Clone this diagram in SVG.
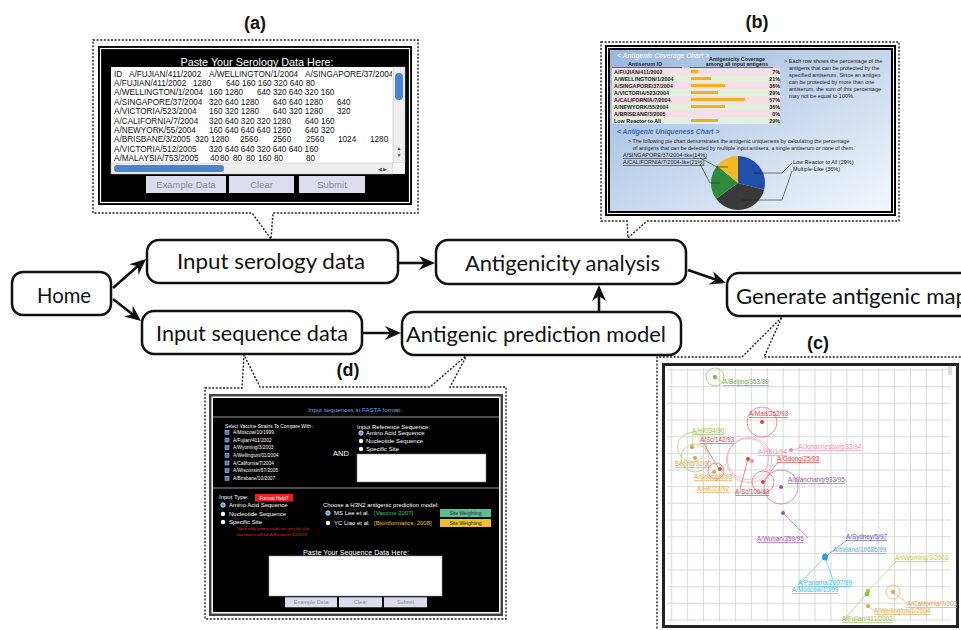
<svg xmlns="http://www.w3.org/2000/svg" width="961" height="630" viewBox="0 0 961 630">
<style>
.nb{fill:#fff;stroke:#111;stroke-width:2.5}
.nt{font-family:Lato,"Liberation Sans",sans-serif;font-size:21px;fill:#111}
.conn{stroke:#111;stroke-width:2.6;fill:none;marker-end:url(#ah)}
.call{fill:none;stroke:#222;stroke-width:1.4;stroke-dasharray:2 1.6}
.pl{font-family:"Liberation Sans",Arial,sans-serif;font-weight:bold;font-size:18px;fill:#111;text-anchor:middle}
.sa{font-family:"Liberation Sans",Arial,sans-serif;font-size:8.2px;fill:#111}
.btn{fill:#dcdcee}
.bt{font-family:"Liberation Sans",Arial,sans-serif;fill:#8a8a9a;text-anchor:middle}
.bs{font-family:"Liberation Sans",Arial,sans-serif;fill:#222}
.dw{font-family:"Liberation Sans",Arial,sans-serif;fill:#fff}
.ml{font-family:"Liberation Sans",Arial,sans-serif;font-size:6.3px;text-decoration:underline}
.grid{stroke:#cfcfcf;stroke-width:0.8;fill:none}
.lead{stroke:#222;stroke-width:0.6;fill:none}
.rad{fill:#fff}
.rads{fill:#4a90e0;stroke:#fff;stroke-width:0.8}
.cb{fill:#3a7ad8;stroke:#cde;stroke-width:0.5}
</style>
<defs>
<marker id="ah" markerUnits="userSpaceOnUse" markerWidth="17" markerHeight="15" refX="12" refY="7" orient="auto">
<path d="M0,0 L16,7 L0,14 L5,7 Z" fill="#111"/>
</marker>
<linearGradient id="bbg" x1="0" y1="0" x2="1" y2="1">
<stop offset="0" stop-color="#97b7df"/>
<stop offset="1" stop-color="#f4f7fb"/>
</linearGradient>
<clipPath id="taClip"><rect x="111" y="67" width="281" height="96"/></clipPath>
<clipPath id="mapClip"><rect x="665" y="366" width="292" height="260"/></clipPath>
</defs>

<!-- panel labels -->
<text class="pl" x="255" y="29">(a)</text>
<text class="pl" x="757" y="28">(b)</text>
<text class="pl" x="818" y="349">(c)</text>
<text class="pl" x="348" y="376">(d)</text>

<!-- callouts -->
<g id="callouts">
<path class="call" d="M93,40 H418 V213 H273 L271,239 L252,213 H93 Z"/>
<path class="call" d="M601,42 H899 V221 H647 L628,238 L627,221 H601 Z"/>
<path class="call" d="M657,632 V357 H742 L782,317 L764,357 H965"/>
<path class="call" d="M205,388 H242 L244,355 L260,387 H430 L467,355 L450,387 H506 V619 H205 Z"/>
</g>

<!-- panel (a) -->
<g id="panel-a">
<rect x="98" y="46" width="314" height="159" fill="#000"/>
<rect x="100.5" y="48.5" width="309" height="154" fill="none" stroke="#fff" stroke-width="1.2"/>
<text class="dw" x="257" y="66" font-size="10.8" text-anchor="middle">Paste Your Serology Data Here:</text>
<rect x="111" y="67" width="294" height="107" fill="#fff"/>
<g clip-path="url(#taClip)" class="sa">
<text x="114" y="76.5">ID</text><text x="129" y="76.5">A/FUJIAN/411/2002</text><text x="209" y="76.5">A/WELLINGTON/1/2004</text><text x="305" y="76.5">A/SINGAPORE/37/2004</text>
<text x="114" y="85.9">A/FUJIAN/411/2002</text><text x="193" y="85.9">1280</text><text x="226" y="85.9">640 160 160 320 640 80</text>
<text x="114" y="95.3">A/WELLINGTON/1/2004</text><text x="209" y="95.3">160 1280</text><text x="257" y="95.3">640 320 640 320 160</text>
<text x="114" y="104.7">A/SINGAPORE/37/2004</text><text x="209" y="104.7">320 640 1280</text><text x="273" y="104.7">640 640 1280</text><text x="337" y="104.7">640</text>
<text x="114" y="114.1">A/VICTORIA/523/2004</text><text x="209" y="114.1">160 320 1280</text><text x="273" y="114.1">640 320 1280</text><text x="337" y="114.1">320</text>
<text x="114" y="123.5">A/CALIFORNIA/7/2004</text><text x="209" y="123.5">320 640 320 320 1280</text><text x="305" y="123.5">640 160</text>
<text x="114" y="132.9">A/NEWYORK/55/2004</text><text x="209" y="132.9">160 640 640 640 1280</text><text x="305" y="132.9">640 320</text>
<text x="114" y="142.3">A/BRISBANE/3/2005</text><text x="195" y="142.3">320 1280</text><text x="240" y="142.3">2560</text><text x="273" y="142.3">2560</text><text x="306" y="142.3">2560</text><text x="338" y="142.3">1024</text><text x="370" y="142.3">1280</text>
<text x="114" y="151.7">A/VICTORIA/512/2005</text><text x="209" y="151.7">320 640 640 320 640 640 160</text>
<text x="114" y="161.1">A/MALAYSIA/753/2005</text><text x="210" y="161.1">40</text><text x="220" y="161.1">80</text><text x="233" y="161.1">80</text><text x="246" y="161.1">80</text><text x="258" y="161.1">160 80</text><text x="306" y="161.1">80</text>
</g>
<!-- scrollbars -->
<rect x="393" y="67" width="12" height="96" fill="#eee" stroke="#bbb" stroke-width="0.5"/>
<rect x="395" y="73" width="8" height="27" rx="4" fill="#4a86d0"/>
<text x="399" y="150" font-family="Liberation Sans" font-size="5" fill="#555" text-anchor="middle">▲</text>
<text x="399" y="157" font-family="Liberation Sans" font-size="5" fill="#555" text-anchor="middle">▼</text>
<rect x="111" y="163" width="282" height="11" fill="#eee" stroke="#bbb" stroke-width="0.5"/>
<rect x="114" y="165" width="110" height="7" rx="3.5" fill="#4a86d0"/>
<text x="378" y="171" font-family="Liberation Sans" font-size="5" fill="#555">◀ ▶</text>
<rect x="393" y="163" width="12" height="11" fill="#f4f4f4"/>
<rect class="btn" x="146" y="176" width="80" height="17"/>
<rect class="btn" x="229" y="176" width="65" height="17"/>
<rect class="btn" x="299" y="176" width="66" height="17"/>
<text class="bt" x="186" y="188" font-size="9.5">Example Data</text>
<text class="bt" x="261.5" y="188" font-size="9.5">Clear</text>
<text class="bt" x="332" y="188" font-size="9.5">Submit</text>
</g>

<!-- panel (b) -->
<g id="panel-b">
<rect x="605" y="45" width="291" height="171" fill="#000"/>
<rect x="607.5" y="47.5" width="286" height="166" fill="none" stroke="#fff" stroke-width="1"/>
<rect x="610" y="50" width="281" height="161" fill="url(#bbg)"/>
<text x="617" y="58" font-family="Liberation Sans" font-size="6.6" font-style="italic" font-weight="bold" fill="#eef3fb">&lt; Antigenic Coverage Chart &gt;</text>
<text class="bs" x="737" y="61" font-size="5.3" font-weight="bold" text-anchor="middle">Antigenicity Coverage</text>
<text class="bs" x="737" y="66" font-size="5.3" font-weight="bold" text-anchor="middle">among all input antigens</text>
<text class="bs" x="645" y="66" font-size="5.5" font-weight="bold" text-anchor="middle">Antiserum ID</text>
<path d="M612,67.7 H682 M690,67.7 H773" stroke="#333" stroke-width="0.8"/>
<rect x="612" y="68" width="168" height="7" fill="#f5dee7"/>
<rect x="612" y="75" width="168" height="7" fill="#e2f0dc"/>
<rect x="612" y="82" width="168" height="7" fill="#f5dee7"/>
<rect x="612" y="89" width="168" height="7" fill="#e2f0dc"/>
<rect x="612" y="96" width="168" height="7" fill="#f5dee7"/>
<rect x="612" y="103" width="168" height="7" fill="#e2f0dc"/>
<rect x="612" y="110" width="168" height="7" fill="#f5dee7"/>
<rect x="612" y="117" width="168" height="7" fill="#e2f0dc"/>
<g fill="#f0b020">
<rect x="691" y="70" width="7" height="3"/>
<rect x="691" y="77" width="20" height="3"/>
<rect x="691" y="84" width="34" height="3"/>
<rect x="691" y="91" width="27" height="3"/>
<rect x="691" y="98" width="54" height="3"/>
<rect x="691" y="105" width="34" height="3"/>
<rect x="691" y="119" width="27" height="3"/>
</g>
<g class="bs" font-size="5.4" font-weight="bold">
<text x="614" y="73.5">A/FUJIAN/411/2002</text>
<text x="614" y="80.5">A/WELLINGTON/1/2004</text>
<text x="614" y="87.5">A/SINGAPORE/37/2004</text>
<text x="614" y="94.5">A/VICTORIA/523/2004</text>
<text x="614" y="101.5">A/CALIFORNIA/7/2004</text>
<text x="614" y="108.5">A/NEWYORK/55/2004</text>
<text x="614" y="115.5">A/BRISBANE/3/2005</text>
<text x="614" y="122.5">Low Reactor to All</text>
</g>
<g class="bs" font-size="5.4" font-weight="bold" text-anchor="end">
<text x="780" y="73.5">7%</text>
<text x="780" y="80.5">21%</text>
<text x="780" y="87.5">36%</text>
<text x="780" y="94.5">29%</text>
<text x="780" y="101.5">57%</text>
<text x="780" y="108.5">36%</text>
<text x="780" y="115.5">0%</text>
<text x="780" y="122.5">29%</text>
</g>
<g class="bs" font-size="5.5">
<text x="784" y="63">&gt; Each row shows the percentage of the</text>
<text x="789" y="70">antigens that can be protected by the</text>
<text x="789" y="77">specified antiserum. Since an antigen</text>
<text x="789" y="84">can be protected by more than one</text>
<text x="789" y="91">antiserum, the sum of this percentage</text>
<text x="789" y="98">may not be equal to 100%.</text>
</g>
<text x="617" y="134" font-family="Liberation Sans" font-size="6.8" font-style="italic" font-weight="bold" fill="#3a68b8">&lt; Antigenic Uniqueness Chart &gt;</text>
<text class="bs" x="628" y="143" font-size="5.3">&gt; The following pie chart demonstrates the antigenic uniqueness by calculating the percentage</text>
<text class="bs" x="633" y="150" font-size="5.3">of antigens that can be detected by multiple input antisera, a single antiserum or none of them.</text>
<text class="bs" x="623" y="157" font-size="5.5" text-decoration="underline">A/SINGAPORE/37/2004-like(14%)</text>
<text class="bs" x="623" y="164" font-size="5.5" text-decoration="underline">A/CALIFORNIA/7/2004-like(21%)</text>
<text class="bs" x="793" y="164" font-size="5.5">Low Reactor to All (29%)</text>
<text class="bs" x="793" y="171" font-size="5.5">Multiple-Like (36%)</text>
<path d="M738,183 L738,156 A27,27 0 0 1 764.15,189.71 Z" fill="#1f4fa8"/>
<path d="M738,183 L764.15,189.71 A27,27 0 0 1 716.16,198.87 Z" fill="#3a3a3a"/>
<path d="M738,183 L716.16,198.87 A27,27 0 0 1 717.2,165.79 Z" fill="#2e8a3c"/>
<path d="M738,183 L717.2,165.79 A27,27 0 0 1 738,156 Z" fill="#f2b82a"/>
<path class="lead" d="M753,173 H782 L792,163 M742,200 H782 L792,171 M700,158 L717,167 H728 M700,164 L710,183 H720"/>
</g>

<!-- panel (c) -->
<g id="panel-c">
<rect x="663.5" y="364.5" width="294" height="262" fill="#fff" stroke="#222" stroke-width="3"/>
<path class="grid" d="M671.7,368V622M687.6,368V622M703.5,368V622M719.5,368V622M735.4,368V622M751.3,368V622M767.2,368V622M783.1,368V622M799.1,368V622M815,368V622M830.9,368V622M846.8,368V622M862.7,368V622M878.7,368V622M894.6,368V622M910.5,368V622M926.4,368V622M942.3,368V622
M667,370H951M667,386.7H951M667,403.3H951M667,420H951M667,436.7H951M667,453.3H951M667,470H951M667,486.7H951M667,503.3H951M667,520H951M667,536.7H951M667,553.3H951M667,570H951M667,586.7H951M667,603.3H951M667,620H951"/>
<rect x="948" y="366" width="4" height="9" fill="#ddd"/>
<g clip-path="url(#mapClip)">
<circle cx="715" cy="377" r="9" fill="none" stroke="#8ccc66" stroke-width="0.8"/>
<circle cx="715" cy="377" r="2" fill="#66b040"/>
<path d="M715,377 L723,383" stroke="#8ccc66" stroke-width="0.6"/>
<text class="ml" x="723" y="384" fill="#66b040">A/Beijing/353/89</text>

<circle cx="762" cy="422" r="15" fill="none" stroke="#f27070" stroke-width="0.8"/>
<circle cx="762" cy="422" r="2" fill="#e83b3b"/>
<text class="ml" x="749" y="416" fill="#e83b3b">A/Mad/262/93</text>

<circle cx="692" cy="447" r="14.5" fill="none" stroke="#a8d880" stroke-width="0.8"/>
<circle cx="692" cy="447" r="2" fill="#88c040"/>
<path d="M693,434 L692,447" stroke="#a8d880" stroke-width="0.6"/>
<text class="ml" x="692" y="433" fill="#88c040">A/HK/34/90</text>

<text class="ml" x="700" y="442" fill="#e83b3b">A/Sc/142/93</text>
<path d="M704,444 L719,469" stroke="#e83b3b" stroke-width="0.6"/>

<circle cx="695" cy="458" r="14" fill="none" stroke="#eab070" stroke-width="0.8"/>
<circle cx="695" cy="458" r="2" fill="#e8a040"/>
<text class="ml" x="675" y="466" fill="#e8a040">Beijing/32/92</text>

<circle cx="748" cy="459" r="20.5" fill="none" stroke="#f7a8b8" stroke-width="0.8"/>
<circle cx="749" cy="460" r="22.5" fill="none" stroke="#f7a8b8" stroke-width="0.8"/>
<circle cx="748" cy="459" r="2" fill="#e83b3b"/>
<circle cx="752" cy="461" r="2" fill="#f08ab0"/>
<text class="ml" x="758" y="454" fill="#f08ab0">A/HK/1/94</text>

<circle cx="791" cy="450" r="2" fill="#f08ab0"/>
<path d="M791,450 L798,449" stroke="#f08ab0" stroke-width="0.6"/>
<text class="ml" x="798" y="449" fill="#f08ab0">A/Johannesburg/33/94</text>

<text class="ml" x="777" y="461" fill="#e83b3b">A/Gdong/25/93</text>
<path d="M778,462 L763,482" stroke="#e83b3b" stroke-width="0.6"/>
<circle cx="763" cy="482" r="11" fill="none" stroke="#f27070" stroke-width="0.8"/>
<circle cx="763" cy="482" r="2" fill="#e83b3b"/>

<circle cx="781" cy="487" r="17" fill="none" stroke="#b878c8" stroke-width="0.8"/>
<circle cx="781" cy="487" r="2" fill="#a050b0"/>
<text class="ml" x="788" y="482" fill="#a050b0">A/Wanchang/933/95</text>

<circle cx="716" cy="471" r="8" fill="none" stroke="#f27070" stroke-width="0.8"/>
<circle cx="720" cy="469" r="2" fill="#e83b3b"/>
<circle cx="714" cy="472" r="2" fill="#e8a040"/>
<text class="ml" x="694" y="479" fill="#e8a040">A/Sdong/9/93</text>
<text class="ml" x="697" y="491" fill="#e8a040">A/HK/23/92</text>
<path d="M740,489 L748,459" stroke="#e83b3b" stroke-width="0.6"/>
<text class="ml" x="735" y="494" fill="#e83b3b">A/Sc/106/93</text>

<circle cx="783" cy="513" r="2" fill="#a050b0"/>
<path d="M783,513 L808,538" stroke="#a050b0" stroke-width="0.6"/>
<text class="ml" x="757" y="541" fill="#a050b0">A/Wuhan/359/95</text>

<path d="M825,557 L847,540" stroke="#5555bb" stroke-width="0.6"/>
<text class="ml" x="846" y="539" fill="#5555bb">A/Sydney/5/97</text>
<text class="ml" x="833" y="552" fill="#40b8e0">A/Ireland/10586/99</text>
<path d="M825,557 L800,583 M825,557 L835,586" stroke="#40b8e0" stroke-width="0.6"/>
<ellipse cx="825" cy="557" rx="3" ry="3.5" fill="#2aa0e0"/>
<text class="ml" x="798" y="585" fill="#40b8e0">A/Panama/2007/99</text>
<text class="ml" x="792" y="592" fill="#40b8e0">A/Moscow/10/99</text>

<path d="M868,591 L896,562" stroke="#c8c840" stroke-width="0.6"/>
<text class="ml" x="895" y="560" fill="#c8c840">A/Wyoming/3/2003</text>
<path d="M868,592 L844,620" stroke="#90c050" stroke-width="0.6"/>
<circle cx="868" cy="591" r="2.3" fill="#a8c840"/>
<circle cx="867" cy="594" r="2.3" fill="#88c040"/>
<text class="ml" x="842" y="621" fill="#90c050">A/Fujian/411/2002</text>

<circle cx="893" cy="592" r="7" fill="none" stroke="#eab070" stroke-width="0.8"/>
<circle cx="893" cy="592" r="2" fill="#e8a040"/>
<path d="M893,592 L907,603" stroke="#e8a040" stroke-width="0.6"/>
<text class="ml" x="907" y="606" fill="#e8a040">A/California/7/2004</text>
<circle cx="868" cy="606" r="2" fill="#e8a040"/>
<path d="M868,606 L874,611" stroke="#e8a040" stroke-width="0.6"/>
<text class="ml" x="874" y="613" fill="#e8a040">A/Wellington/1/2004</text>
</g>
</g>

<!-- panel (d) -->
<g id="panel-d">
<rect x="209" y="394" width="294" height="222" fill="#444"/>
<rect x="211.5" y="396.5" width="289" height="217" fill="#fff"/>
<rect x="213" y="398" width="286" height="214" fill="#000"/>
<text x="355" y="412" font-family="Liberation Sans" font-size="6.2" fill="#6aa8ff" text-anchor="middle">Input sequences in FASTA format:</text>
<path d="M213,417 H499 M213,488 H499" stroke="#666" stroke-width="1.5"/>
<text class="dw" x="225" y="428" font-size="4.8">Select Vaccine Strains To Compare With :</text>
<rect class="cb" x="225" y="430.3" width="4" height="4"/>
<rect class="cb" x="225" y="438" width="4" height="4"/>
<rect class="cb" x="225" y="445.7" width="4" height="4"/>
<rect class="cb" x="225" y="453.3" width="4" height="4"/>
<rect class="cb" x="225" y="461" width="4" height="4"/>
<rect class="cb" x="225" y="468.7" width="4" height="4"/>
<rect class="cb" x="225" y="476.3" width="4" height="4"/>
<g class="dw" font-size="4.8">
<text x="233" y="434">A/Moscow/10/1999</text>
<text x="233" y="441.7">A/Fujian/411/2002</text>
<text x="233" y="449.4">A/Wyoming/3/2003</text>
<text x="233" y="457">A/Wellington/01/2004</text>
<text x="233" y="464.7">A/California/7/2004</text>
<text x="233" y="472.4">A/Wisconsin/67/2005</text>
<text x="233" y="480">A/Brisbane/10/2007</text>
</g>
<text class="dw" x="333" y="456" font-size="7.5">AND</text>
<text class="dw" x="357" y="428.5" font-size="6">Input Reference Sequence:</text>
<circle class="rads" cx="361" cy="433" r="2.2"/>
<circle class="rad" cx="361" cy="441" r="2.2"/>
<circle class="rad" cx="361" cy="449" r="2.2"/>
<g class="dw" font-size="6">
<text x="366" y="435">Amino Acid Sequence</text>
<text x="366" y="443">Nucleotide Sequence</text>
<text x="366" y="451">Specific Site</text>
</g>
<rect x="357" y="454" width="129" height="28" fill="#fff" stroke="#888" stroke-width="0.6"/>
<text class="dw" x="219" y="499" font-size="6">Input Type:</text>
<rect x="255" y="494" width="38" height="7.5" fill="#e8201e"/>
<text class="dw" x="274" y="499.6" font-size="4.8" text-anchor="middle">Format Help?</text>
<circle class="rads" cx="223" cy="505" r="2.2"/>
<circle class="rad" cx="223" cy="514" r="2.2"/>
<circle class="rad" cx="223" cy="522" r="2.2"/>
<g class="dw" font-size="6">
<text x="229" y="507">Amino Acid Sequence</text>
<text x="229" y="516">Nucleotide Sequence</text>
<text x="229" y="524">Specific Site</text>
</g>
<text x="237" y="530" font-family="Liberation Sans" font-size="4.3" fill="#e02020">Input only amino acids on specific site,</text>
<text x="237" y="536" font-family="Liberation Sans" font-size="4.3" fill="#e02020">backbone will be A/Brisbane/10/2007.</text>
<text class="dw" x="323" y="507" font-size="6">Choose a H3N2 antigenic prediction model:</text>
<circle class="rads" cx="328" cy="513" r="2.2"/>
<circle class="rad" cx="328" cy="523" r="2.2"/>
<text class="dw" x="334" y="515" font-size="6">MS Lee et al.</text>
<text x="374" y="515" font-family="Liberation Sans" font-size="6" fill="#3cc07a">[Vaccine 2007]</text>
<text class="dw" x="334" y="525" font-size="6">YC Liao et al.</text>
<text x="374" y="525" font-family="Liberation Sans" font-size="6" fill="#e8c020">[Bioinformatics. 2008]</text>
<rect x="440" y="509" width="51" height="8" fill="#5cc08c"/>
<rect x="440" y="519" width="51" height="8" fill="#f0c020"/>
<text x="465.5" y="515.3" font-family="Liberation Sans" font-size="5" fill="#224" text-anchor="middle">Site Weighting</text>
<text x="465.5" y="525.3" font-family="Liberation Sans" font-size="5" fill="#224" text-anchor="middle">Site Weighting</text>
<text class="dw" x="356" y="554.5" font-size="7.2" text-anchor="middle">Paste Your Sequence Data Here:</text>
<rect x="269" y="556" width="173" height="40" fill="#fff" stroke="#999" stroke-width="0.6"/>
<rect class="btn" x="285" y="597.3" width="52" height="10"/>
<rect class="btn" x="339" y="597.3" width="43" height="10"/>
<rect class="btn" x="384" y="597.3" width="43" height="10"/>
<text class="bt" x="311" y="604.3" font-size="5.5">Example Data</text>
<text class="bt" x="360.5" y="604.3" font-size="5.5">Clear</text>
<text class="bt" x="405.5" y="604.3" font-size="5.5">Submit</text>
</g>

<!-- connectors -->
<g id="connectors">
<path class="conn" d="M113,288 L143,261.6"/>
<path class="conn" d="M113,299 L137.9,318.5"/>
<path class="conn" d="M399,263 L431,263"/>
<path class="conn" d="M363,333 L397,333"/>
<path class="conn" d="M599,312 L599,289"/>
<path class="conn" d="M688,270 L722.2,281.7"/>
</g>

<!-- nodes -->
<g id="home"><rect class="nb" x="12" y="272" width="99" height="43" rx="11"/><text class="nt" x="37" y="303" textLength="54" lengthAdjust="spacingAndGlyphs">Home</text></g>
<g id="input-serology"><rect class="nb" x="147" y="240" width="251" height="43" rx="12"/><text class="nt" x="177" y="269" textLength="188" lengthAdjust="spacingAndGlyphs">Input serology data</text></g>
<g id="input-sequence"><rect class="nb" x="142" y="311" width="220" height="43" rx="12"/><text class="nt" x="156" y="341" textLength="192" lengthAdjust="spacingAndGlyphs">Input sequence data</text></g>
<g id="antigenicity"><rect class="nb" x="436" y="240" width="250" height="44" rx="12"/><text class="nt" x="465" y="271" textLength="195" lengthAdjust="spacingAndGlyphs">Antigenicity analysis</text></g>
<g id="prediction"><rect class="nb" x="402" y="312" width="279" height="43" rx="12"/><text class="nt" x="406" y="342" textLength="260" lengthAdjust="spacingAndGlyphs">Antigenic prediction model</text></g>
<g id="generate"><rect class="nb" x="727" y="273" width="262" height="43" rx="12"/><text class="nt" x="736" y="304" textLength="232" lengthAdjust="spacingAndGlyphs">Generate antigenic map</text></g>
</svg>
